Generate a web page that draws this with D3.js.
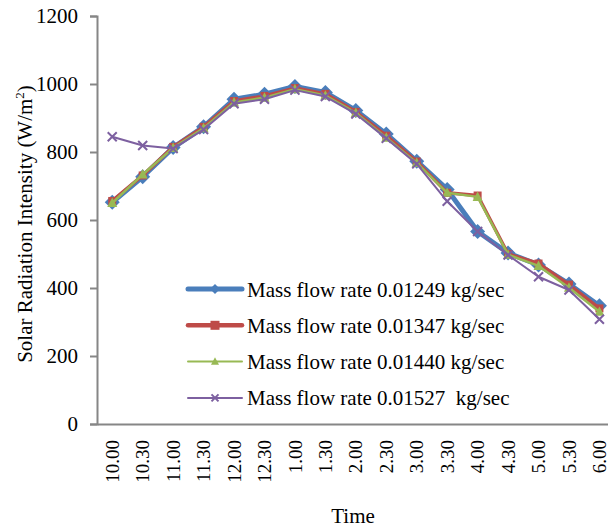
<!DOCTYPE html>
<html>
<head>
<meta charset="utf-8">
<script src="https://cdn.jsdelivr.net/npm/d3@7"></script>
<style>
  html, body { margin: 0; padding: 0; background: #fff; }
  svg { display: block; font-family: "Liberation Serif", "Times New Roman", serif; }
</style>
</head>
<body>
<svg id="chart" width="608" height="529"></svg>
<script>
// Time of day (hh.mm)
const times = ["10.00","10.30","11.00","11.30","12.00","12.30","1.00","1.30","2.00","2.30","3.00","3.30","4.00","4.30","5.00","5.30","6.00"];

// Solar radiation intensity (W/m²) for each mass flow rate
const flow01249 = [652, 727, 813, 874, 955, 970, 993, 975, 922, 853, 773, 690, 566, 503, 468, 412, 348];
const flow01347 = [656, 731, 815, 874, 950, 965, 988, 971, 918, 848, 772, 680, 672, 500, 472, 410, 340];
const flow01440 = [650, 734, 812, 870, 946, 960, 985, 966, 915, 842, 768, 680, 668, 498, 465, 401, 330];
const flow01527 = [845, 819, 810, 866, 942, 955, 982, 963, 912, 840, 765, 655, 566, 497, 433, 394, 308];

const seriesNames = [
  "Mass flow rate 0.01249 kg/sec",
  "Mass flow rate 0.01347 kg/sec",
  "Mass flow rate 0.01440 kg/sec",
  "Mass flow rate 0.01527  kg/sec"
];

const yTicks = [0, 200, 400, 600, 800, 1000, 1200];

const series = [
  { name: seriesNames[0], values: flow01249, color: "#4A7EBB", width: 5,   marker: "diamond" },
  { name: seriesNames[1], values: flow01347, color: "#BE4B48", width: 3.5, marker: "square" },
  { name: seriesNames[2], values: flow01440, color: "#98B954", width: 2.5, marker: "triangle" },
  { name: seriesNames[3], values: flow01527, color: "#7D60A0", width: 2,   marker: "cross" }
];

const svg = d3.select("#chart");
const plotLeft = 97, plotTop = 16, plotBottom = 424, step = 30.45;

const x = d3.scaleBand().domain(times).range([plotLeft, plotLeft + step * times.length]).padding(0);
const y = d3.scaleLinear().domain([0, 1200]).range([plotBottom, plotTop]);

const axisColor = "#868686";
const serif = "Liberation Serif, Times New Roman, serif";

// Y axis
const yAxis = svg.append("g")
  .attr("transform", `translate(${plotLeft},0)`)
  .call(d3.axisLeft(y).tickValues(yTicks).tickSize(7).tickPadding(12).tickFormat(d3.format("d")));
yAxis.select(".domain").attr("stroke", axisColor).attr("stroke-width", 2);
yAxis.selectAll(".tick line").attr("stroke", axisColor).attr("stroke-width", 2);
yAxis.selectAll(".tick text").attr("font-size", 21).attr("fill", "#000").attr("font-family", serif);

// X axis
const xAxis = svg.append("g")
  .attr("transform", `translate(0,${plotBottom})`)
  .call(d3.axisBottom(x).tickSize(0).tickSizeOuter(0).tickPadding(0));
xAxis.select(".domain").attr("stroke", axisColor).attr("stroke-width", 2);
xAxis.selectAll(".tick text")
  .attr("font-size", 19)
  .attr("fill", "#000")
  .attr("font-family", serif)
  .attr("text-anchor", "end")
  .attr("dy", "0.35em")
  .attr("transform", "translate(0,16) rotate(-90)")
  .attr("x", 0).attr("y", 0);

// Axis titles
svg.append("text")
  .attr("transform", `translate(32,224) rotate(-90)`)
  .attr("text-anchor", "middle")
  .attr("font-size", 21)
  .selectAll("tspan")
  .data([["Solar Radiation Intensity (W/m", null], ["2", "sup"], [")", null]])
  .join("tspan")
  .text(d => d[0])
  .attr("font-size", d => d[1] ? 13 : 21)
  .attr("dy", (d, i) => i === 1 ? -8 : (i === 2 ? 8 : 0));

svg.append("text")
  .attr("x", 353).attr("y", 523)
  .attr("text-anchor", "middle")
  .attr("font-size", 21)
  .text("Time");

// Marker shapes
function drawMarker(g, type, color, size) {
  if (type === "diamond") {
    const s = size / 2;
    g.append("path").attr("d", `M0,${-s}L${s},0L0,${s}L${-s},0Z`).attr("fill", color);
  } else if (type === "square") {
    g.append("rect").attr("x", -size / 2).attr("y", -size / 2)
      .attr("width", size).attr("height", size).attr("fill", color);
  } else if (type === "triangle") {
    const h = size * 0.9;
    g.append("path").attr("d", `M0,${-h * 0.6}L${size / 2},${h * 0.45}L${-size / 2},${h * 0.45}Z`)
      .attr("fill", color);
  } else {
    const s = size / 2;
    g.append("path").attr("d", `M${-s},${-s}L${s},${s}M${-s},${s}L${s},${-s}`)
      .attr("stroke", color).attr("stroke-width", 2).attr("fill", "none");
  }
}

const markerSize = { diamond: 15, square: 8, triangle: 10, cross: 9 };

const line = d3.line()
  .x((d, i) => x(times[i]) + x.bandwidth() / 2)
  .y(d => y(d));

series.forEach(s => {
  const g = svg.append("g");
  g.append("path")
    .attr("d", line(s.values))
    .attr("fill", "none")
    .attr("stroke", s.color)
    .attr("stroke-width", s.width)
    .attr("stroke-linejoin", "round");
  s.values.forEach((v, i) => {
    const m = g.append("g")
      .attr("transform", `translate(${x(times[i]) + x.bandwidth() / 2},${y(v)})`);
    drawMarker(m, s.marker, s.color, markerSize[s.marker]);
  });
});

// Legend
const legend = svg.append("g");
const legendLineW = [5, 4.5, 2, 2];
const legendMarker = { diamond: 10, square: 9, triangle: 8, cross: 7 };
series.forEach((s, i) => {
  const base = 296.5 + i * 36.3;
  const ly = base - 7.5;
  legend.append("line")
    .attr("x1", 188).attr("x2", 242)
    .attr("y1", ly).attr("y2", ly)
    .attr("stroke", s.color)
    .attr("stroke-width", legendLineW[i])
    .attr("stroke-linecap", "round");
  const m = legend.append("g").attr("transform", `translate(215,${ly})`);
  drawMarker(m, s.marker, s.color, legendMarker[s.marker]);
  legend.append("text")
    .attr("x", 247).attr("y", base)
    .attr("font-size", 21)
    .style("white-space", "pre")
    .text(s.name);
});
</script>
</body>
</html>
